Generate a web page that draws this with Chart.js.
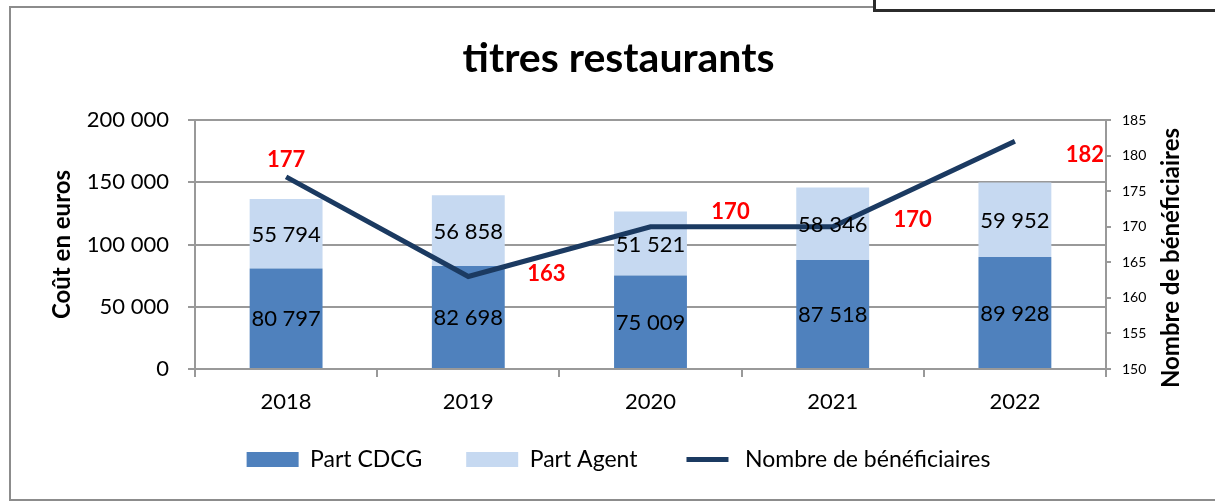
<!DOCTYPE html>
<html>
<head>
<meta charset="utf-8">
<script src="https://cdn.jsdelivr.net/npm/chart.js@4"></script>
<style>
  html, body { margin: 0; padding: 0; background: #fff; }
  #wrap { position: relative; width: 1215px; height: 502px; overflow: hidden; }
  #frame { position: absolute; left: 9px; top: 6px; width: 1240px; height: 491px; border: 2px solid #8c8c8c; }
  #tab { position: absolute; left: 873px; top: -12px; width: 400px; height: 18px; border: 3px solid #2b2b2b; background: #fff; }
  canvas { position: absolute; left: 0; top: 0; }
</style>
</head>
<body>
<div id="wrap">
  <div id="frame"></div>
  <div id="tab"></div>
  <canvas id="chart" width="1215" height="502"></canvas>
</div>
<script>
// data
const years = ["2018", "2019", "2020", "2021", "2022"];
const partCDCG = [80797, 82698, 75009, 87518, 89928];
const partAgent = [55794, 56858, 51521, 58346, 59952];
const beneficiaires = [177, 163, 170, 170, 182];

// where each red label sits relative to its point (px)
const labelOffsets = [[0, -17], [78, -3], [80, -15], [80, -7], [70, 14]];

const FONT = "Lato, 'Open Sans', sans-serif";
const fmt = (v) => String(v).replace(/\B(?=(\d{3})+(?!\d))/g, " ");

// bar values in the middle of each segment, red numbers next to the line
const valueLabels = {
  id: "valueLabels",
  afterDatasetsDraw(chart) {
    const ctx = chart.ctx;
    ctx.save();
    ctx.textAlign = "center";
    ctx.textBaseline = "middle";
    [0, 1].forEach((di) => {
      const meta = chart.getDatasetMeta(di);
      ctx.font = "22px " + FONT;
      ctx.fillStyle = "#000";
      meta.data.forEach((bar, i) => {
        const mid = (bar.y + bar.base) / 2;
        ctx.fillText(fmt(chart.data.datasets[di].data[i]), bar.x, mid + 1);
      });
    });
    const lineMeta = chart.getDatasetMeta(2);
    ctx.font = "bold 22px " + FONT;
    ctx.fillStyle = "#ff0000";
    lineMeta.data.forEach((pt, i) => {
      const [dx, dy] = labelOffsets[i];
      ctx.fillText(String(beneficiaires[i]), pt.x + dx, pt.y + dy);
    });
    // right axis title reads bottom to top
    ctx.font = "bold 24px " + FONT;
    ctx.fillStyle = "#000";
    ctx.translate(1171, 258);
    ctx.rotate(-Math.PI / 2);
    ctx.fillText("Nombre de bénéficiaires", 0, 0);
    ctx.restore();
  }
};

// wide gaps between legend items, but keep the row close to the axis
const legendFit = {
  id: "legendFit",
  beforeInit(chart) {
    const fit = chart.legend.fit;
    chart.legend.fit = function () {
      fit.bind(chart.legend)();
      this.height = 80;
    };
  },
  afterLayout(chart) {
    chart.legend.top -= 12;
    chart.legend.bottom -= 12;
  }
};

const ctx = document.getElementById("chart").getContext("2d");
new Chart(ctx, {
  type: "bar",
  data: {
    labels: years,
    datasets: [
      {
        label: "Part CDCG",
        data: partCDCG,
        backgroundColor: "#4f81bd",
        stack: "cost",
        order: 2,
        categoryPercentage: 0.8,
        barPercentage: 0.5
      },
      {
        label: "Part Agent",
        data: partAgent,
        backgroundColor: "#c6d9f1",
        stack: "cost",
        order: 2,
        categoryPercentage: 0.8,
        barPercentage: 0.5
      },
      {
        type: "line",
        label: "Nombre de bénéficiaires",
        data: beneficiaires,
        yAxisID: "y1",
        borderColor: "#1b3a61",
        borderWidth: 5,
        pointRadius: 0,
        tension: 0,
        order: 0
      }
    ]
  },
  options: {
    responsive: false,
    animation: false,
    layout: { padding: { left: 22, right: 0, top: 0, bottom: 6 } },
    plugins: {
      title: {
        display: true,
        text: "titres restaurants",
        color: "#000",
        font: { family: FONT, size: 41, weight: "bold" },
        padding: { top: 34, bottom: 36.8 }
      },
      legend: {
        position: "bottom",
        labels: {
          font: { family: FONT, size: 23 },
          color: "#000",
          boxWidth: 52,
          boxHeight: 15,
          padding: 44,
          generateLabels(chart) {
            return chart.data.datasets.map((ds, i) => ({
              text: ds.label,
              fillStyle: ds.type === "line" ? ds.borderColor : ds.backgroundColor,
              strokeStyle: "#fff",
              lineWidth: ds.type === "line" ? 10 : 0,
              fontColor: "#000",
              hidden: false,
              datasetIndex: i
            }));
          }
        }
      },
      tooltip: { enabled: false }
    },
    scales: {
      x: {
        stacked: true,
        afterFit(scale) {
          scale.height = 47;
        },
        grid: {
          offset: true,
          drawOnChartArea: false,
          tickLength: 8,
          color: "#999",
          lineWidth: 2
        },
        border: { color: "#999", width: 2 },
        ticks: {
          color: "#000",
          padding: 12,
          font: { family: FONT, size: 22 }
        }
      },
      y: {
        stacked: true,
        min: 0,
        max: 200000,
        afterFit(scale) {
          scale.width = 195 - 22;
        },
        ticks: {
          stepSize: 50000,
          color: "#000",
          padding: 19,
          font: { family: FONT, size: 22 },
          callback: (v) => fmt(v)
        },
        grid: { color: "#999", lineWidth: 2, tickLength: 7 },
        border: { color: "#999", width: 2 },
        title: {
          display: true,
          text: "Coût en euros",
          color: "#000",
          font: { family: FONT, size: 24, weight: "bold" },
          padding: { top: 26, bottom: 0 }
        }
      },
      y1: {
        position: "right",
        min: 150,
        max: 185,
        afterFit(scale) {
          scale.width = 1215 - 1106;
        },
        ticks: {
          stepSize: 5,
          color: "#000",
          padding: 11,
          font: { family: FONT, size: 14 }
        },
        grid: { drawOnChartArea: false, color: "#999", lineWidth: 2, tickLength: 5 },
        border: { color: "#999", width: 2 }
      }
    }
  },
  plugins: [valueLabels, legendFit]
});
</script>
</body>
</html>
